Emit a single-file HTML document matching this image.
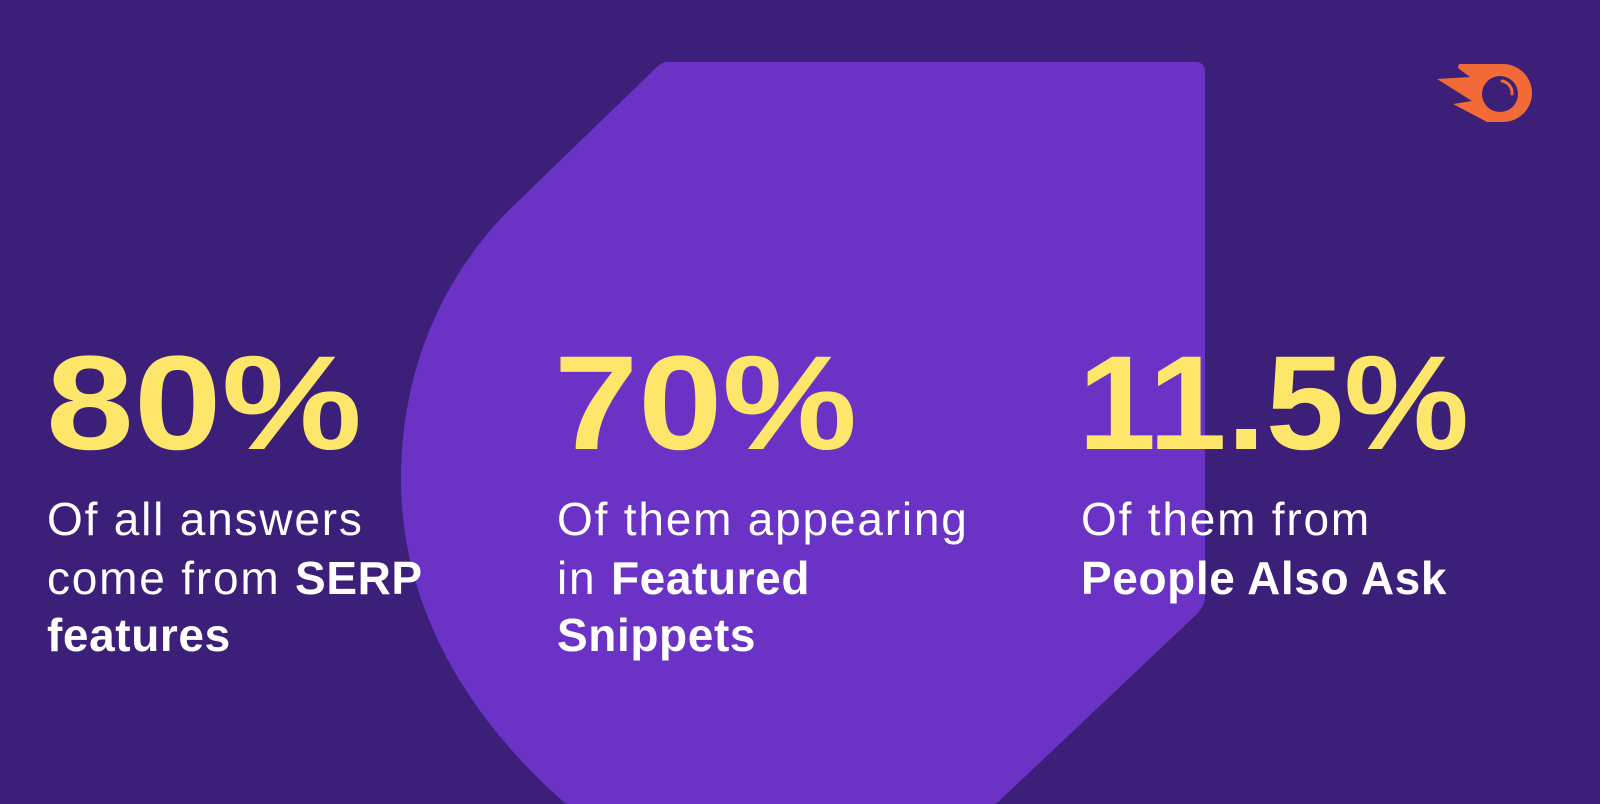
<!DOCTYPE html>
<html><head><meta charset="utf-8"><style>
html,body{margin:0;padding:0;}
body{width:1600px;height:804px;background:#3b1f79;overflow:hidden;position:relative;font-family:"Liberation Sans",sans-serif;}
svg{position:absolute;left:0;top:0;}
</style></head><body>
<svg width="1600" height="804" viewBox="0 0 1600 804">
<path d="M668,62 L1195,62 Q1205,62 1205,72 L1205,596 Q1205,606 1197,614 L996,804 L566,804 C470,720 401,610 401,479 C401,360 450,270 508,211 L658,66 Q662,62 668,62 Z" fill="#6a33c6"/>
<g fill="#fde66a" font-weight="bold" font-size="134">
<text x="46" y="449" textLength="316" lengthAdjust="spacingAndGlyphs">80%</text>
<text x="554" y="449" textLength="303" lengthAdjust="spacingAndGlyphs">70%</text>
<text x="1078" y="449" textLength="391" lengthAdjust="spacingAndGlyphs">11.5%</text>
</g>
<g fill="#ffffff" font-size="46" letter-spacing="1.8">
<text x="47" y="535">Of all answers</text>
<text x="47" y="594">come from <tspan font-weight="bold" letter-spacing="0.6">SERP</tspan></text>
<text x="47" y="651" font-weight="bold" letter-spacing="0.6">features</text>
<text x="557" y="535">Of them appearing</text>
<text x="557" y="594">in <tspan font-weight="bold" letter-spacing="0.6">Featured</tspan></text>
<text x="557" y="651" font-weight="bold" letter-spacing="0.6">Snippets</text>
<text x="1081" y="535">Of them from</text>
<text x="1081" y="594" font-weight="bold" letter-spacing="0.6">People Also Ask</text>
</g>
<g fill="#f26a36">
<circle cx="1503" cy="93" r="29"/>
<polygon points="1459,64 1503,64 1503,122 1487,122 1453,104 1472,101 1437,79 1470,77 1458,68"/>
</g>
<circle cx="1500" cy="94" r="18" fill="#3b1f79"/>
<path d="M1502,81 A12,12 0 0 1 1512,94" stroke="#f26a36" stroke-width="3" fill="none" stroke-linecap="round"/>
</svg>
</body></html>
